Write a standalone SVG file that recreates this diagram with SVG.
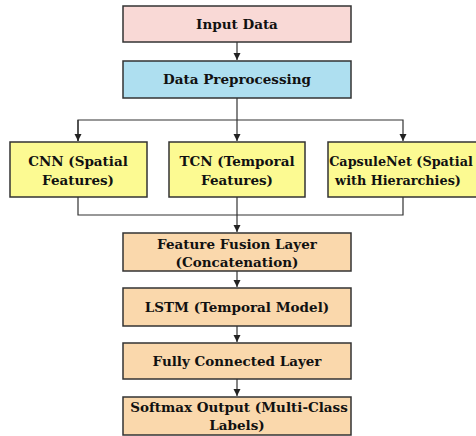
<svg xmlns="http://www.w3.org/2000/svg" width="476" height="436" viewBox="0 0 476 436">
<defs>
<marker id="ah" markerWidth="7" markerHeight="8" refX="7" refY="4" orient="auto" markerUnits="userSpaceOnUse">
<path d="M0,0.5 L7,4 L0,7.5 Z" fill="#222"/>
</marker>
<style>
.box{stroke:#333;stroke-width:1.5}
.pink{fill:#F9D9D6}
.blue{fill:#AEDFF0}
.yellow{fill:#FCFA92}
.orange{fill:#FAD8AC}
.t{font-family:"DejaVu Serif",serif;font-weight:bold;font-size:13.5px;fill:#111;text-anchor:middle}
.s{font-size:12.8px}
.c{fill:none;stroke:#333;stroke-width:1.2}
</style>
</defs>
<rect width="476" height="436" fill="#fff"/>
<g id="connectors">
<path class="c" d="M237,42 V60" marker-end="url(#ah)"/>
<path class="c" d="M237,98 V141" marker-end="url(#ah)"/>
<path class="c" d="M78,141 V120 H403 V141" marker-end="url(#ah)"/>
<path class="c" d="M78,120 V141" marker-end="url(#ah)"/>
<path class="c" d="M78,197 V215 H403 V197"/>
<path class="c" d="M237,197 V232" marker-end="url(#ah)"/>
<path class="c" d="M237,271 V287" marker-end="url(#ah)"/>
<path class="c" d="M237,326 V342" marker-end="url(#ah)"/>
<path class="c" d="M237,379 V396" marker-end="url(#ah)"/>
</g>
<g id="input">
<rect class="box pink" x="123" y="6" width="228" height="36"/>
<text class="t" x="237" y="29">Input Data</text>
</g>
<g id="preprocessing">
<rect class="box blue" x="123" y="61" width="228" height="37"/>
<text class="t" x="237" y="84">Data Preprocessing</text>
</g>
<g id="cnn">
<rect class="box yellow" x="10" y="142" width="137" height="55"/>
<text class="t" x="78" y="166">CNN (Spatial</text>
<text class="t" x="78" y="185">Features)</text>
</g>
<g id="tcn">
<rect class="box yellow" x="169" y="142" width="136" height="55"/>
<text class="t" x="237" y="166">TCN (Temporal</text>
<text class="t" x="237" y="185">Features)</text>
</g>
<g id="capsule">
<rect class="box yellow" x="328" y="142" width="152" height="55"/>
<text class="t s" x="401" y="166">CapsuleNet (Spatial</text>
<text class="t s" x="398" y="185">with Hierarchies)</text>
</g>
<g id="fusion">
<rect class="box orange" x="123" y="233" width="228" height="38"/>
<text class="t" x="237" y="249">Feature Fusion Layer</text>
<text class="t" x="237" y="267">(Concatenation)</text>
</g>
<g id="lstm">
<rect class="box orange" x="123" y="288" width="228" height="38"/>
<text class="t" x="237" y="312">LSTM (Temporal Model)</text>
</g>
<g id="fc">
<rect class="box orange" x="123" y="343" width="228" height="36"/>
<text class="t" x="237" y="366">Fully Connected Layer</text>
</g>
<g id="softmax">
<rect class="box orange" x="123" y="397" width="228" height="38"/>
<text class="t" x="239" y="412">Softmax Output (Multi-Class</text>
<text class="t" x="237" y="430">Labels)</text>
</g>
</svg>
